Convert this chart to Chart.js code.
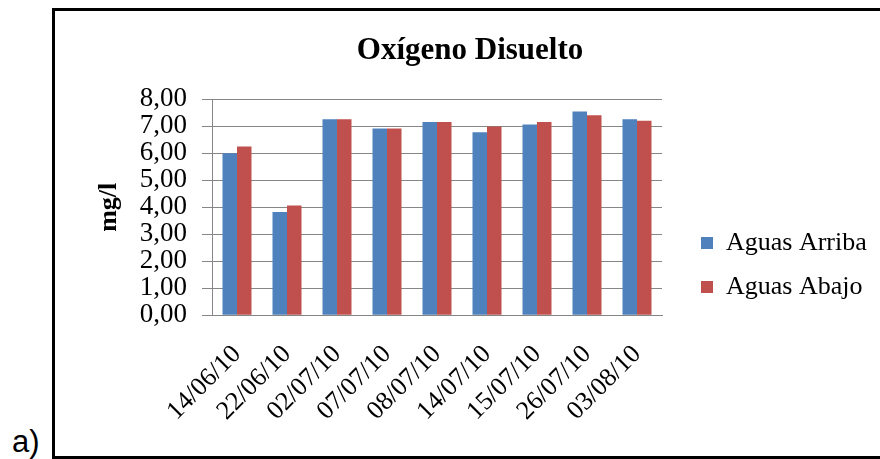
<!DOCTYPE html>
<html>
<head>
<meta charset="utf-8">
<script src="https://cdn.jsdelivr.net/npm/chart.js@4/dist/chart.umd.min.js"></script>
<style>
  html, body { margin: 0; padding: 0; background: #fff; }
  body { width: 880px; height: 459px; position: relative; overflow: hidden; }
  #frame {
    position: absolute; left: 52px; top: 8px; width: 900px; height: 451px;
    box-sizing: border-box; border: 3px solid #000;
  }
  #tag {
    position: absolute; left: 12px; top: 425px;
    font-family: "Liberation Sans", Arial, sans-serif; font-size: 31px; line-height: 34px; color: #000;
  }
  #chart { position: absolute; left: 0; top: 0; }
</style>
</head>
<body>
<div id="frame"></div>
<div id="tag">a)</div>
<canvas id="chart" width="880" height="459"></canvas>
<script>
// Sampling dates
const fechas = ['14/06/10', '22/06/10', '02/07/10', '07/07/10', '08/07/10', '14/07/10', '15/07/10', '26/07/10', '03/08/10'];
// Dissolved oxygen, mg/l
const aguasArriba = [6.00, 3.83, 7.26, 6.92, 7.16, 6.78, 7.07, 7.55, 7.26];
const aguasAbajo  = [6.25, 4.07, 7.26, 6.92, 7.16, 6.99, 7.16, 7.41, 7.21];
// Value axis labels, 0 to 8
const yTickLabels = ['0,00', '1,00', '2,00', '3,00', '4,00', '5,00', '6,00', '7,00', '8,00'];

const serif = '"Liberation Serif", "Times New Roman", serif';
Chart.defaults.color = '#000';
Chart.defaults.font.family = serif;

// Nudges the legend block into the right margin beside the plot
const legendOffset = {
  id: 'legendOffset',
  afterLayout(chart) {
    const lg = chart.legend;
    if (!lg) return;
    lg.left += 21; lg.right += 21;
    lg.top += 35.5; lg.bottom += 35.5;
  }
};

new Chart(document.getElementById('chart'), {
  type: 'bar',
  data: {
    labels: fechas,
    datasets: [
      { label: 'Aguas Arriba', data: aguasArriba, backgroundColor: '#4F81BD', borderWidth: 0 },
      { label: 'Aguas Abajo', data: aguasAbajo, backgroundColor: '#C0504D', borderWidth: 0 }
    ]
  },
  options: {
    responsive: false,
    animation: false,
    categoryPercentage: 0.58,
    barPercentage: 1.0,
    layout: { padding: { left: 86, right: 26, top: 0, bottom: 0 } },
    plugins: {
      title: {
        display: true,
        text: 'Oxígeno Disuelto',
        color: '#000',
        font: { family: serif, size: 31, weight: 'bold' },
        padding: { top: 32.4, bottom: 29.7 }
      },
      legend: {
        position: 'right',
        labels: {
          boxWidth: 12, boxHeight: 12, padding: 18,
          color: '#000',
          font: { family: serif, size: 26 }
        }
      },
      tooltip: { enabled: false }
    },
    scales: {
      x: {
        grid: { display: false },
        border: { display: true, color: '#868686', width: 1 },
        ticks: {
          autoSkip: false, minRotation: 45, maxRotation: 45, padding: 16,
          font: { family: serif, size: 26 }, color: '#000'
        },
        afterFit(scale) { scale.height = 143.7; }
      },
      y: {
        min: 0, max: 8,
        grid: { color: '#868686', lineWidth: 1, tickLength: 10, drawTicks: true },
        border: { display: true, color: '#868686', width: 1 },
        ticks: {
          stepSize: 1, autoSkip: false, padding: 15,
          font: { family: serif, size: 27 }, color: '#000',
          callback: (v, i) => yTickLabels[i]
        },
        title: {
          display: true, text: 'mg/l', color: '#000',
          font: { family: serif, size: 26, weight: 'bold' },
          padding: { top: 8, bottom: 0 }
        },
        afterFit(scale) { scale.width = 126; }
      }
    }
  },
  plugins: [legendOffset]
});
</script>
</body>
</html>
